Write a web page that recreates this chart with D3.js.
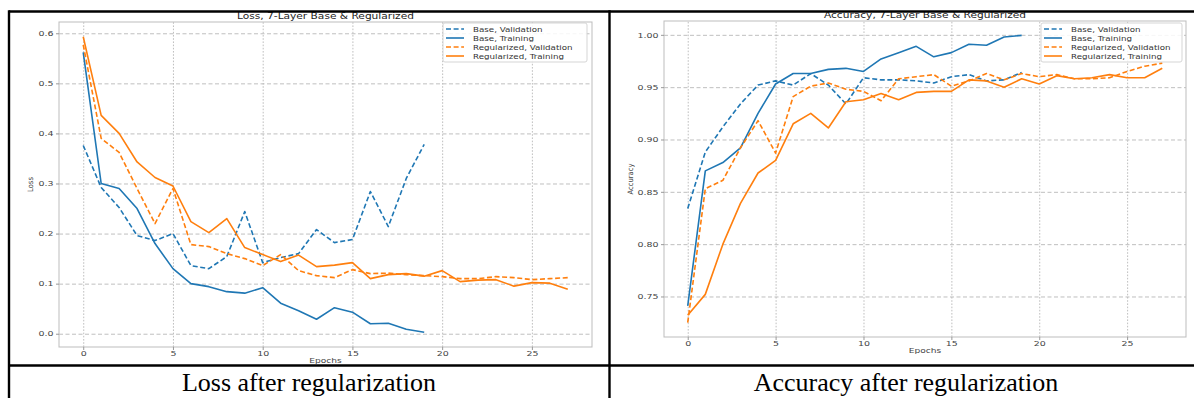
<!DOCTYPE html>
<html><head><meta charset="utf-8">
<script src="https://cdn.jsdelivr.net/npm/d3@7"></script>
<style>
body{margin:0;background:#fff}
</style></head><body>
<svg id="c" width="1194" height="398" font-family="DejaVu Sans"></svg>
<script>
// ---------- data ----------
const epochsBase = [0,1,2,3,4,5,6,7,8,9,10,11,12,13,14,15,16,17,18,19];
const epochsReg = [0,1,2,3,4,5,6,7,8,9,10,11,12,13,14,15,16,17,18,19,20,21,22,23,24,25,26,27];
const xTicks = [0,5,10,15,20,25];

const lossBaseVal = [0.376,0.292,0.252,0.196,0.186,0.200,0.136,0.130,0.154,0.244,0.142,0.152,0.160,0.208,0.182,0.188,0.284,0.214,0.310,0.378];
const lossBaseTrain = [0.562,0.300,0.290,0.250,0.180,0.130,0.100,0.094,0.084,0.081,0.092,0.061,0.046,0.029,0.052,0.043,0.020,0.021,0.009,0.003];
const lossRegVal = [0.577,0.390,0.362,0.290,0.220,0.290,0.178,0.174,0.160,0.150,0.136,0.158,0.126,0.116,0.112,0.128,0.120,0.121,0.118,0.116,0.114,0.110,0.110,0.114,0.112,0.108,0.110,0.112];
const lossRegTrain = [0.593,0.436,0.400,0.343,0.312,0.295,0.224,0.202,0.230,0.172,0.158,0.144,0.157,0.134,0.137,0.142,0.110,0.118,0.120,0.115,0.126,0.104,0.107,0.108,0.095,0.102,0.101,0.089];
const lossTicks = [0.0,0.1,0.2,0.3,0.4,0.5,0.6];

const accBaseVal = [0.834,0.888,0.912,0.934,0.952,0.956,0.952,0.963,0.952,0.934,0.959,0.957,0.957,0.956,0.954,0.960,0.962,0.956,0.957,0.964];
const accBaseTrain = [0.741,0.870,0.878,0.892,0.925,0.953,0.963,0.963,0.967,0.968,0.965,0.977,0.983,0.989,0.979,0.983,0.991,0.990,0.998,0.9995];
const accRegVal = [0.725,0.853,0.861,0.892,0.918,0.887,0.941,0.951,0.954,0.948,0.946,0.937,0.958,0.960,0.962,0.951,0.956,0.963,0.957,0.963,0.960,0.962,0.958,0.958,0.959,0.965,0.970,0.973];
const accRegTrain = [0.732,0.752,0.800,0.839,0.868,0.880,0.915,0.925,0.911,0.936,0.938,0.944,0.938,0.945,0.946,0.946,0.957,0.956,0.950,0.958,0.953,0.961,0.958,0.959,0.962,0.959,0.959,0.968];
const accTicks = [0.75,0.80,0.85,0.90,0.95,1.00];

const seriesNames = ["Base, Validation","Base, Training","Regularized, Validation","Regularized, Training"];
const captions = ["Loss after regularization","Accuracy after regularization"];
const titles = ["Loss, 7-Layer Base & Regularized","Accuracy, 7-Layer Base & Regularized"];
const yLabels = ["Loss","Accuracy"];

// ---------- drawing ----------
const svg = d3.select("#c");
const BLUE = "#1f77b4", ORANGE = "#ff7f0e";
const styles = [
  {color: BLUE, dash: "5,2.6"},
  {color: BLUE, dash: null},
  {color: ORANGE, dash: "5,2.6"},
  {color: ORANGE, dash: null}
];

function stretch(sel, sx, origin){
  sel.style("transform-box","fill-box")
     .style("transform-origin", origin || "50% 50%")
     .style("transform", `scaleX(${sx})`);
}

function drawChart(cfg){
  const g = svg.append("g");
  const allX = cfg.series.flatMap(s => s.x);
  const allY = cfg.series.flatMap(s => s.y);
  const [xmin,xmax] = d3.extent(allX), [ymin,ymax] = d3.extent(allY);
  const mx = (xmax-xmin)*0.05, my = (ymax-ymin)*0.05;
  const x = d3.scaleLinear().domain([xmin-mx, xmax+mx]).range([cfg.left, cfg.right]);
  const y = d3.scaleLinear().domain([ymin-my, ymax+my]).range([cfg.bottom, cfg.top]);
  const w = cfg.right-cfg.left, h = cfg.bottom-cfg.top;

  // grid
  const gx = g.append("g").attr("transform",`translate(0,${cfg.bottom})`)
    .call(d3.axisBottom(x).tickValues(xTicks).tickSize(-h).tickFormat(""));
  gx.select(".domain").remove();
  gx.selectAll("line").attr("stroke","#b8b8b8").attr("stroke-width",0.9).attr("stroke-dasharray","1.6,1.6");
  const gy = g.append("g").attr("transform",`translate(${cfg.left},0)`)
    .call(d3.axisLeft(y).tickValues(cfg.yTicks).tickSize(-w).tickFormat(""));
  gy.select(".domain").remove();
  gy.selectAll("line").attr("stroke","#b8b8b8").attr("stroke-width",0.9).attr("stroke-dasharray","4,2.5");

  // lines
  cfg.series.forEach((s,i) => {
    const line = d3.line().x((d,j)=>x(s.x[j])).y(d=>y(d));
    g.append("path").datum(s.y).attr("d",line)
      .attr("fill","none").attr("stroke",styles[i].color).attr("stroke-width",1.6)
      .attr("stroke-dasharray",styles[i].dash).attr("stroke-linejoin","round");
  });

  // spines
  g.append("rect").attr("x",cfg.left).attr("y",cfg.top).attr("width",w).attr("height",h)
    .attr("fill","none").attr("stroke","#bdbdbd").attr("stroke-width",1);

  // axes
  const ax = g.append("g").attr("transform",`translate(0,${cfg.bottom})`)
    .call(d3.axisBottom(x).tickValues(xTicks).tickSize(3).tickPadding(1.5).tickFormat(d3.format("d")));
  ax.select(".domain").remove();
  ax.selectAll("line").attr("stroke","#999");
  ax.selectAll("text").attr("font-size",7).attr("fill","#444").attr("font-family","DejaVu Sans");
  stretch(ax.selectAll("text"),1.35);

  const ay = g.append("g").attr("transform",`translate(${cfg.left},0)`)
    .call(d3.axisLeft(y).tickValues(cfg.yTicks).tickSize(3).tickPadding(2.5).tickFormat(d3.format(cfg.yFmt)));
  ay.select(".domain").remove();
  ay.selectAll("line").attr("stroke","#999");
  ay.selectAll("text").attr("font-size",7).attr("fill","#444").attr("font-family","DejaVu Sans");
  stretch(ay.selectAll("text"),1.35,"100% 50%");

  // title
  const t = g.append("text").attr("x",(cfg.left+cfg.right)/2).attr("y",cfg.top-2.5)
    .attr("text-anchor","middle").attr("font-size",8.5).attr("fill","#222").text(cfg.title);
  stretch(t,1.25);

  // x label
  const xl = g.append("text").attr("x",(cfg.left+cfg.right)/2).attr("y",cfg.xlabelY)
    .attr("text-anchor","middle").attr("dominant-baseline","central")
    .attr("font-size",7).attr("fill","#444").text("Epochs");
  stretch(xl,1.3);

  // y label
  g.append("text").attr("transform",`translate(${cfg.ylabelX},${(cfg.top+cfg.bottom)/2}) rotate(-90)`)
    .attr("text-anchor","middle").attr("dominant-baseline","central")
    .attr("font-family","DejaVu Sans Condensed").attr("font-size",7.5).attr("fill","#444")
    .text(cfg.ylabel);

  // legend
  const L = cfg.legend;
  g.append("rect").attr("x",L.x).attr("y",L.y).attr("width",L.w).attr("height",L.h)
    .attr("rx",2).attr("fill","#fff").attr("fill-opacity",0.85).attr("stroke","#d0d0d0").attr("stroke-width",0.9);
  seriesNames.forEach((n,i) => {
    const yy = L.y + 6 + i*9;
    g.append("line").attr("x1",L.x+3).attr("x2",L.x+21).attr("y1",yy).attr("y2",yy)
      .attr("stroke",styles[i].color).attr("stroke-width",1.6).attr("stroke-dasharray",styles[i].dash);
    const tx = g.append("text").attr("x",L.x+30).attr("y",yy).attr("dominant-baseline","central")
      .attr("font-size",7.5).attr("fill","#333").text(n);
    stretch(tx,1.16,"0% 50%");
  });
}

drawChart({
  left:59, right:592, top:22, bottom:347, yTicks:lossTicks, yFmt:".1f",
  title:titles[0], ylabel:yLabels[0], xlabelY:360, ylabelX:30,
  legend:{x:443, y:23, w:144, h:39},
  series:[
    {x:epochsBase, y:lossBaseVal},{x:epochsBase, y:lossBaseTrain},
    {x:epochsReg, y:lossRegVal},{x:epochsReg, y:lossRegTrain}]
});
drawChart({
  left:664, right:1186, top:21, bottom:337, yTicks:accTicks, yFmt:".2f",
  title:titles[1], ylabel:yLabels[1], xlabelY:350, ylabelX:630,
  legend:{x:1041, y:23, w:141, h:39},
  series:[
    {x:epochsBase, y:accBaseVal},{x:epochsBase, y:accBaseTrain},
    {x:epochsReg, y:accRegVal},{x:epochsReg, y:accRegTrain}]
});

// table borders
const B = svg.append("g").attr("stroke","#000").attr("stroke-width",2.4);
B.append("line").attr("x1",9).attr("x2",1194).attr("y1",11.5).attr("y2",11.5);
B.append("line").attr("x1",9).attr("x2",1194).attr("y1",365.5).attr("y2",365.5);
B.append("line").attr("x1",9).attr("x2",9).attr("y1",10.3).attr("y2",398);
B.append("line").attr("x1",609.5).attr("x2",609.5).attr("y1",10.3).attr("y2",398);

// captions
[[309,captions[0]],[906,captions[1]]].forEach(([cx,txt]) => {
  svg.append("text").attr("x",cx).attr("y",391).attr("text-anchor","middle")
    .attr("font-family","Liberation Serif, Times New Roman, serif").attr("font-size",26)
    .attr("fill","#000").text(txt);
});
</script>
</body></html>
